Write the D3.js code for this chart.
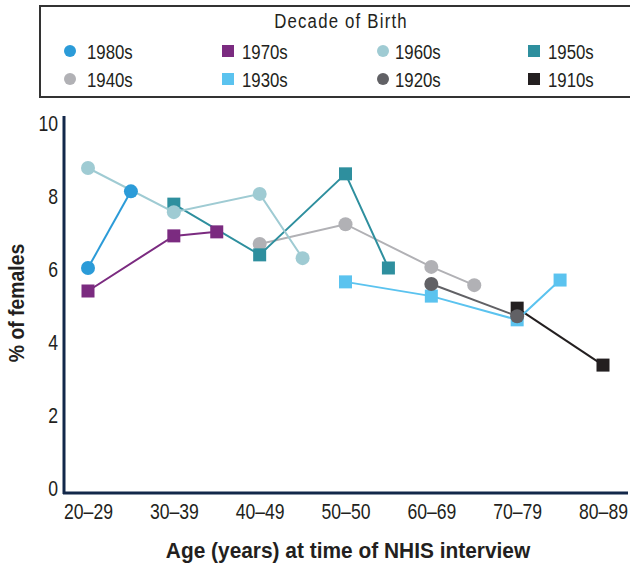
<!DOCTYPE html>
<html lang="en">
<head>
<meta charset="utf-8">
<title>% of females by age and decade of birth</title>
<script src="https://cdn.jsdelivr.net/npm/d3@7"></script>
<style>
  body { margin: 0; background: #fff; }
  text { font-family: "Liberation Sans", Arial, sans-serif; fill: #231f20; }
</style>
</head>
<body>
<script>
// age groups on the x axis (mid ages 25, 35, ... 85)
var ageLabels = ["20\u201329", "30\u201339", "40\u201349", "50\u201350", "60\u201369", "70\u201379", "80\u201389"];
var ageMids = [25, 35, 45, 55, 65, 75, 85];
var yTicks = [0, 2, 4, 6, 8, 10];

// one small array per birth decade: [age, % of females]
var s1980 = [[25, 6.0], [30, 8.1]];
var s1970 = [[25, 5.37], [35, 6.88], [40, 6.99]];
var s1960 = [[25, 8.74], [35, 7.53], [45, 8.03], [50, 6.27]];
var s1950 = [[35, 7.75], [45, 6.36], [55, 8.58], [60, 6.0]];
var s1940 = [[45, 6.66], [55, 7.2], [65, 6.03], [70, 5.53]];
var s1930 = [[55, 5.62], [65, 5.23], [75, 4.58], [80, 5.67]];
var s1920 = [[65, 5.56], [75, 4.68]];
var s1910 = [[75, 4.9], [85, 3.34]];

var series = [
  {name: "1980s", shape: "circle", color: "#2b9bd8", data: s1980},
  {name: "1970s", shape: "square", color: "#7b2b80", data: s1970},
  {name: "1960s", shape: "circle", color: "#9fcbd3", data: s1960},
  {name: "1950s", shape: "square", color: "#2e8f9e", data: s1950},
  {name: "1940s", shape: "circle", color: "#b1b1b5", data: s1940},
  {name: "1930s", shape: "square", color: "#5bc3ef", data: s1930},
  {name: "1920s", shape: "circle", color: "#616165", data: s1920},
  {name: "1910s", shape: "square", color: "#231f20", data: s1910}
];
// painting order (the 1920s dots sit on top of the 1910s / 1930s squares)
var drawOrder = ["1910s", "1930s", "1920s", "1940s", "1950s", "1960s", "1970s", "1980s"];

var W = 630, H = 564;
var NARROW = 0.8; // no condensed face installed, so squeeze the glyphs
var svg = d3.select("body").append("svg").attr("width", W).attr("height", H);

var x = d3.scaleLinear().domain([25, 85]).range([88, 603]);
var y = d3.scaleLinear().domain([0, 10]).range([487, 122]);

function label(parent, tx, ty, str, size, sx) {
  return parent.append("text")
    .attr("transform", "translate(" + tx + "," + ty + ") scale(" + (sx || NARROW) + ",1)")
    .style("font-size", size + "px")
    .text(str);
}

// legend
var lg = svg.append("g");
lg.append("rect")
  .attr("x", 40).attr("y", 6).attr("width", 610).attr("height", 91)
  .attr("fill", "none").attr("stroke", "#333").attr("stroke-width", 2);
label(lg, 341, 28, "Decade of Birth", 21)
  .attr("text-anchor", "middle")
  .style("letter-spacing", "1.5px");

var colX = [70, 228, 383, 534];
var textGap = [17, 14, 12, 14];
series.forEach(function(s, i) {
  var cx = colX[i % 4], cy = i < 4 ? 51 : 79;
  var g = lg.append("g").attr("transform", "translate(" + cx + "," + cy + ")");
  if (s.shape === "circle") {
    g.append("circle").attr("r", 6).attr("fill", s.color);
  } else {
    g.append("rect").attr("x", -6).attr("y", -6).attr("width", 12).attr("height", 12).attr("fill", s.color);
  }
  label(g, textGap[i % 4], 8, s.name, 21);
});

// axes
var yAxis = svg.append("g")
  .attr("transform", "translate(64,0)")
  .call(d3.axisLeft(y).tickValues(yTicks).tickSize(0).tickPadding(0));
yAxis.select(".domain").remove();
yAxis.selectAll("text")
  .attr("x", null).attr("dy", null)
  .attr("transform", "translate(-6,8) scale(" + NARROW + ",1)")
  .style("font-size", "22px").attr("fill", "#231f20");

var xAxis = svg.append("g")
  .attr("transform", "translate(0,493)")
  .call(d3.axisBottom(x).tickValues(ageMids).tickFormat(function(d, i) { return ageLabels[i]; })
    .tickSize(0).tickPadding(0));
xAxis.select(".domain").remove();
xAxis.selectAll("text")
  .attr("y", null).attr("dy", null)
  .attr("transform", "translate(0,26) scale(" + NARROW + ",1)")
  .style("font-size", "22px").attr("fill", "#231f20");

svg.append("line")
  .attr("x1", 64).attr("x2", 64).attr("y1", 116).attr("y2", 494)
  .attr("stroke", "#13284a").attr("stroke-width", 3);
svg.append("line")
  .attr("x1", 63).attr("x2", 628).attr("y1", 493).attr("y2", 493)
  .attr("stroke", "#13284a").attr("stroke-width", 3);

label(svg, 348, 558, "Age (years) at time of NHIS interview", 22, 0.95)
  .attr("text-anchor", "middle")
  .style("font-weight", "bold");

svg.append("text")
  .attr("transform", "translate(24,303) rotate(-90) scale(0.88,1)")
  .attr("text-anchor", "middle")
  .style("font-size", "22px").style("font-weight", "bold")
  .text("% of females");

// lines and markers
var line = d3.line().x(function(d) { return x(d[0]); }).y(function(d) { return y(d[1]); });
var ordered = drawOrder.map(function(n) { return series.find(function(s) { return s.name === n; }); });

ordered.forEach(function(s) {
  var g = svg.append("g");
  g.append("path").datum(s.data)
    .attr("d", line).attr("fill", "none")
    .attr("stroke", s.color).attr("stroke-width", 2);
  if (s.shape === "circle") {
    g.selectAll("circle").data(s.data).enter().append("circle")
      .attr("cx", function(d) { return x(d[0]); })
      .attr("cy", function(d) { return y(d[1]); })
      .attr("r", 7).attr("fill", s.color);
  } else {
    g.selectAll("rect").data(s.data).enter().append("rect")
      .attr("x", function(d) { return x(d[0]) - 6.5; })
      .attr("y", function(d) { return y(d[1]) - 6.5; })
      .attr("width", 13).attr("height", 13).attr("fill", s.color);
  }
});
</script>
</body>
</html>
